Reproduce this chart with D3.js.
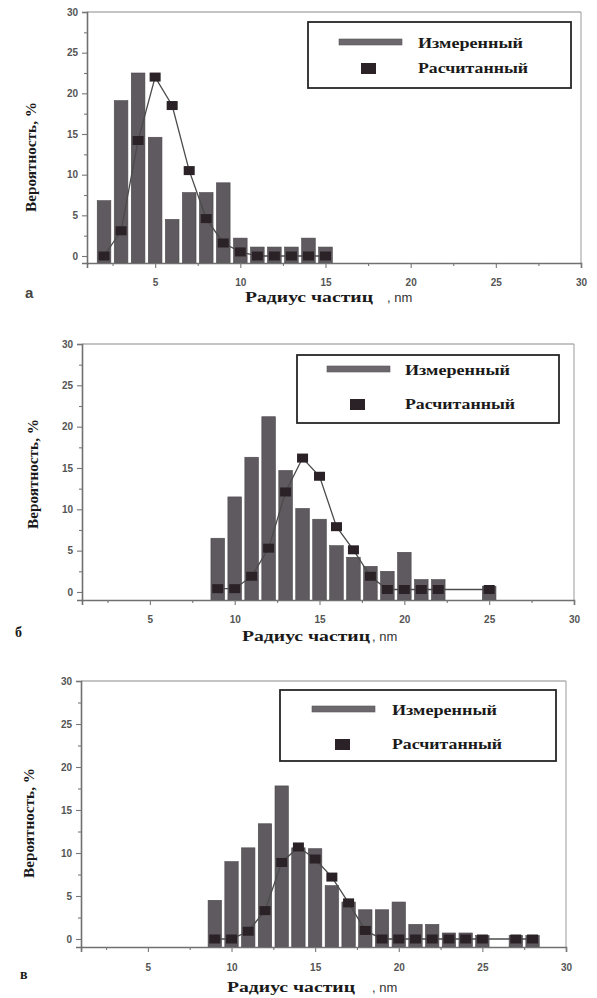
<!DOCTYPE html>
<html>
<head>
<meta charset="utf-8">
<script src="https://cdn.jsdelivr.net/npm/d3@7"></script>
<style>
  body { margin: 0; background: #fff; }
  svg { display: block; }
</style>
</head>
<body>
<svg id="chart" width="597" height="998"></svg>
<script>
// Data (particle radius, nm -> probability, %)
const radiusA   = [2, 3, 4, 5, 6, 7, 8, 9, 10, 11, 12, 13, 14, 15];
const measuredA = [6.8, 19.1, 22.5, 14.6, 4.5, 7.8, 7.8, 9.0, 2.2, 1.1, 1.1, 1.1, 2.2, 1.1];
const calcA     = [0, 3.1, 14.2, 22.0, 18.5, 10.5, 4.6, 1.6, 0.5, 0, 0, 0, 0, 0];

const radiusB   = [9, 10, 11, 12, 13, 14, 15, 16, 17, 18, 19, 20, 21, 22, 25];
const measuredB = [6.5, 11.5, 16.3, 21.2, 14.7, 10.1, 8.8, 5.6, 4.2, 3.1, 2.5, 4.8, 1.5, 1.5, 0.7];
const calcB     = [0.4, 0.4, 1.9, 5.3, 12.1, 16.2, 14.0, 7.9, 5.1, 1.9, 0.3, 0.3, 0.3, 0.3, 0.3];

const radiusC   = [9, 10, 11, 12, 13, 14, 15, 16, 17, 18, 19, 20, 21, 22, 23, 24, 25, 27, 28];
const measuredC = [4.5, 9.0, 10.6, 13.4, 17.8, 10.6, 10.5, 6.2, 4.3, 3.4, 3.4, 4.3, 1.7, 1.7, 0.7, 0.7, 0.4, 0.4, 0.4];
const calcC     = [0, 0, 0.9, 3.3, 8.9, 10.7, 9.3, 7.2, 4.2, 1.0, 0, 0, 0, 0, 0, 0, 0, 0, 0];

const xTicks = [5, 10, 15, 20, 25, 30];
const yTicks = [0, 5, 10, 15, 20, 25, 30];
const legendLabels = ['Измеренный', 'Расчитанный'];
const yTitle = 'Вероятность, %';
const panelLetters = ['а', 'б', 'в'];

const svg = d3.select('#chart');
const serif = '"Liberation Serif", "DejaVu Serif", serif';
const sans = '"Liberation Sans", Arial, sans-serif';
const barColor = '#5f5a5f';
const dotColor = '#2a2226';

// layout of the three stacked panels (pixel positions of each frame)
const panels = [
  {radius: radiusA, measured: measuredA, calc: calcA,
   left: 87, right: 581, top: 12, bottom: 263, yMin: -0.86,
   legend: {x0: 308, x1: 571, y0: 22, y1: 88, sw: 339, sq: 361, tx: 418, b1: 48, b2: 73},
   yt: {x: 31, y: 157}, xt: {x: 245, y: 302, nm: 387}, letter: {x: 25, y: 298}, tickLabelY: 282},
  {radius: radiusB, measured: measuredB, calc: calcB,
   left: 82, right: 574, top: 344, bottom: 600, yMin: -0.97,
   legend: {x0: 297, x1: 559, y0: 355, y1: 423, sw: 327, sq: 350, tx: 405, b1: 375, b2: 409},
   yt: {x: 33, y: 474}, xt: {x: 242, y: 641, nm: 372}, letter: {x: 15, y: 637}, tickLabelY: 619},
  {radius: radiusC, measured: measuredC, calc: calcC,
   left: 81, right: 566, top: 681, bottom: 947, yMin: -0.93,
   legend: {x0: 280, x1: 556, y0: 690, y1: 761, sw: 312, sq: 335, tx: 392, b1: 715, b2: 749},
   yt: {x: 29, y: 823}, xt: {x: 227, y: 992, nm: 372}, letter: {x: 20, y: 979}, tickLabelY: 967}
];

function drawPanel(p, i) {
  const g = svg.append('g').attr('class', 'panel');

  const x = d3.scaleLinear().domain([1, 30]).range([p.left, p.right]);
  const y = d3.scaleLinear().domain([p.yMin, 30]).range([p.bottom, p.top]);

  // frame: top and right in a lighter line
  g.append('line').attr('x1', p.left).attr('x2', p.right).attr('y1', p.top).attr('y2', p.top)
    .attr('stroke', '#8a8a8a').attr('stroke-width', 1.2);
  g.append('line').attr('x1', p.right).attr('x2', p.right).attr('y1', p.top).attr('y2', p.bottom)
    .attr('stroke', '#9a9a9a').attr('stroke-width', 1);

  // bars (measured)
  const bw = (x(2) - x(1)) * 0.8;
  g.selectAll('rect.bar').data(p.radius.map((r, k) => ({r, v: p.measured[k]})))
    .enter().append('rect').attr('class', 'bar')
    .attr('x', d => x(d.r) - bw / 2)
    .attr('width', bw)
    .attr('y', d => y(d.v))
    .attr('height', d => p.bottom - y(d.v))
    .attr('fill', barColor)
    .attr('stroke', '#4a464a').attr('stroke-width', 0.6);

  // computed distribution: line + square markers
  const pts = p.radius.map((r, k) => ({r, v: p.calc[k]}));
  const line = d3.line().x(d => x(d.r)).y(d => y(d.v));
  g.append('path').attr('d', line(pts))
    .attr('fill', 'none').attr('stroke', '#4b4b4b').attr('stroke-width', 1.3);
  g.selectAll('rect.dot').data(pts)
    .enter().append('rect').attr('class', 'dot')
    .attr('x', d => x(d.r) - 5.5).attr('y', d => y(d.v) - 4.5)
    .attr('width', 11).attr('height', 9)
    .attr('fill', dotColor);

  // axes
  const xAxis = g.append('g').attr('transform', `translate(0,${p.bottom})`)
    .call(d3.axisBottom(x).tickValues(xTicks).tickSize(5).tickPadding(6));
  g.append('g').attr('transform', `translate(0,${p.bottom})`)
    .call(d3.axisBottom(x).tickValues(d3.range(2.5, 30, 5)).tickSize(3).tickFormat(''))
    .select('.domain').remove();
  const yAxis = g.append('g').attr('transform', `translate(${p.left},0)`)
    .call(d3.axisLeft(y).tickValues(yTicks).tickSize(5).tickPadding(4));
  g.append('g').attr('transform', `translate(${p.left},0)`)
    .call(d3.axisLeft(y).tickValues(d3.range(2.5, 30, 5)).tickSize(3).tickFormat(''))
    .select('.domain').remove();

  g.selectAll('.domain').attr('stroke', '#707070').attr('stroke-width', 1.6);
  g.selectAll('.tick line').attr('stroke', '#777').attr('stroke-width', 1.1);
  g.selectAll('.tick text').attr('fill', '#555').attr('font-family', sans)
    .attr('font-weight', 'bold').attr('font-size', 10);
  xAxis.selectAll('.tick text').attr('y', null).attr('dy', null)
    .attr('y', p.tickLabelY - p.bottom + 4);

  // legend
  const L = p.legend;
  g.append('rect').attr('x', L.x0).attr('y', L.y0)
    .attr('width', L.x1 - L.x0).attr('height', L.y1 - L.y0)
    .attr('fill', '#fff').attr('stroke', '#262626').attr('stroke-width', 1.8);
  g.append('rect').attr('x', L.sw).attr('y', L.b1 - 9).attr('width', 63).attr('height', 6)
    .attr('fill', '#6d686d').attr('stroke', '#5a565a').attr('stroke-width', 0.6);
  g.append('rect').attr('x', L.sq).attr('y', L.b2 - 10).attr('width', 15).attr('height', 11)
    .attr('fill', dotColor);
  g.append('text').attr('x', L.tx).attr('y', L.b1).text(legendLabels[0])
    .attr('font-family', serif).attr('font-weight', 'bold').attr('font-size', 15)
    .attr('fill', '#1a1a1a').attr('textLength', 105).attr('lengthAdjust', 'spacingAndGlyphs');
  g.append('text').attr('x', L.tx).attr('y', L.b2).text(legendLabels[1])
    .attr('font-family', serif).attr('font-weight', 'bold').attr('font-size', 15)
    .attr('fill', '#1a1a1a').attr('textLength', 110).attr('lengthAdjust', 'spacingAndGlyphs');

  // axis titles
  g.append('text')
    .attr('transform', `translate(${p.yt.x},${p.yt.y}) rotate(-90)`)
    .attr('text-anchor', 'middle').attr('dy', '0.35em')
    .text(yTitle)
    .attr('font-family', serif).attr('font-weight', 'bold').attr('font-size', 15)
    .attr('fill', '#1a1a1a').attr('textLength', 110).attr('lengthAdjust', 'spacingAndGlyphs');

  g.append('text').attr('x', p.xt.x).attr('y', p.xt.y)
    .text('Радиус частиц')
    .attr('font-family', serif).attr('font-weight', 'bold').attr('font-size', 15)
    .attr('fill', '#1a1a1a').attr('textLength', 128).attr('lengthAdjust', 'spacingAndGlyphs');
  g.append('text').attr('x', p.xt.nm).attr('y', p.xt.y)
    .text(', nm')
    .attr('font-family', sans).attr('font-size', 13).attr('fill', '#333');

  // panel letter
  g.append('text').attr('x', p.letter.x).attr('y', p.letter.y)
    .text(panelLetters[i])
    .attr('font-family', i === 0 ? sans : serif).attr('font-weight', 'bold')
    .attr('font-size', i === 0 ? 15 : 14).attr('fill', i === 0 ? '#444' : '#1a1a1a');
}

panels.forEach(drawPanel);
</script>
</body>
</html>
